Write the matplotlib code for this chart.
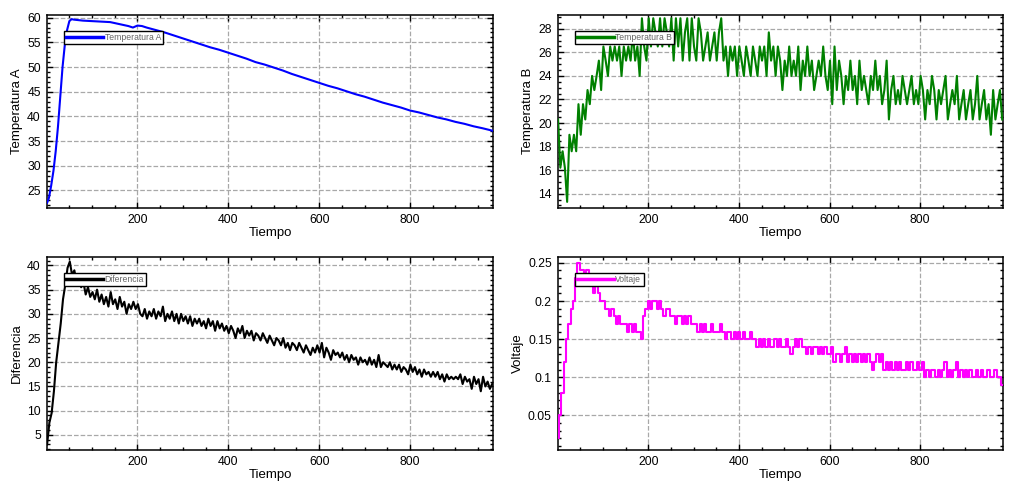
import numpy as np
import matplotlib
matplotlib.use("Agg")
import matplotlib.pyplot as plt
from matplotlib.ticker import MultipleLocator, FuncFormatter

plt.rcParams['font.family'] = ['Liberation Sans', 'DejaVu Sans']

# Temperatura A (smooth curve, read at irregular times)
tiempo_a = [1, 5, 10, 15, 20, 25, 30, 35, 40, 45, 50, 55, 60, 80, 100, 120, 140, 160, 180, 190,
            200, 210, 220, 240, 260, 280, 300, 320, 340, 360, 380, 400, 420, 440, 460, 480, 500,
            520, 540, 560, 580, 600, 620, 640, 660, 680, 700, 720, 740, 760, 780, 800, 820, 840,
            860, 880, 900, 920, 940, 960, 982]
temp_a = [22.5, 23.5, 26.0, 29.0, 33.0, 38.0, 44.0, 50.0, 54.5, 57.5, 59.3, 59.7, 59.6, 59.4, 59.3,
          59.2, 59.1, 58.7, 58.3, 58.0, 58.4, 58.3, 58.0, 57.5, 57.0, 56.4, 55.8, 55.2, 54.6, 54.0,
          53.5, 52.9, 52.3, 51.7, 51.0, 50.5, 49.9, 49.3, 48.6, 48.0, 47.4, 46.8, 46.2, 45.7, 45.1,
          44.5, 44.0, 43.4, 42.8, 42.3, 41.8, 41.2, 40.8, 40.3, 39.8, 39.4, 38.9, 38.5, 38.0, 37.6,
          37.1]

# the noisy series, read every 5 time units (t = 1, 6, 11, ... 981)
tiempo = np.arange(1, 982, 5)

temp_b = [
    20.3, 16.2, 17.6, 16.2, 13.3, 19.0, 17.6, 19.0, 17.6, 21.6,
    19.0, 21.6, 20.3, 22.8, 21.6, 24.0, 22.8, 24.0, 25.3, 22.8,
    26.5, 25.3, 24.0, 26.5, 25.3, 26.5, 25.3, 26.5, 24.0, 26.5,
    25.3, 26.5, 25.3, 27.7, 25.3, 26.5, 24.0, 28.9, 26.5, 25.3,
    28.9, 26.5, 28.9, 27.7, 26.5, 28.9, 26.5, 28.9, 27.7, 26.5,
    28.9, 25.3, 28.9, 26.5, 28.9, 25.3, 27.7, 28.9, 25.3, 28.9,
    26.5, 25.3, 28.9, 27.7, 25.3, 26.5, 27.7, 25.3, 26.5, 27.7,
    25.3, 27.7, 28.9, 25.3, 26.5, 24.0, 26.5, 25.3, 26.5, 24.0,
    26.5, 25.3, 24.0, 26.5, 25.3, 24.0, 26.5, 25.3, 24.0, 26.5,
    25.3, 26.5, 24.0, 27.7, 25.3, 26.5, 24.0, 26.5, 25.3, 22.8,
    25.3, 24.0, 26.5, 24.0, 25.3, 24.0, 26.5, 22.8, 25.3, 24.0,
    26.5, 24.0, 25.3, 22.8, 24.0, 25.3, 24.0, 26.5, 24.0, 22.8,
    25.3, 21.6, 26.5, 22.8, 25.3, 24.0, 21.6, 24.0, 22.8, 25.3,
    22.8, 24.0, 21.6, 25.3, 22.8, 24.0, 22.8, 21.6, 24.0, 22.8,
    25.3, 22.8, 24.0, 21.6, 22.8, 25.3, 20.3, 22.8, 24.0, 21.6,
    22.8, 21.6, 24.0, 22.8, 21.6, 22.8, 24.0, 21.6, 22.8, 21.6,
    24.0, 22.8, 20.3, 22.8, 21.6, 24.0, 22.8, 20.3, 22.8, 21.6,
    22.8, 24.0, 20.3, 21.6, 22.8, 21.6, 24.0, 20.3, 21.6, 22.8,
    20.3, 21.6, 22.8, 20.3, 21.6, 24.0, 20.3, 21.6, 22.8, 20.3,
    21.6, 19.0, 22.8, 20.3, 21.6, 22.8, 20.3]

diferencia = [
    3.0, 7.5, 9.5, 14.0, 20.0, 24.0, 28.0, 33.0, 36.0, 39.5,
    40.8, 38.0, 39.0, 36.5, 37.5, 35.5, 36.5, 34.0, 35.5, 33.5,
    34.5, 33.0, 35.0, 32.5, 34.0, 32.0, 33.5, 31.5, 34.5, 32.0,
    33.0, 31.0, 33.5, 31.5, 32.5, 30.0, 32.0, 31.0, 32.5, 31.0,
    32.0, 30.0, 29.5, 31.0, 29.0, 30.5, 29.5, 31.0, 29.0, 30.5,
    29.5, 31.5, 28.5, 30.0, 29.0, 30.5, 28.5, 30.0, 28.0, 30.0,
    28.5, 29.5, 28.0, 29.5, 27.5, 29.0, 28.0, 29.0, 27.5, 28.5,
    27.0, 29.0, 27.5, 28.5, 26.5, 28.5, 27.0, 28.0, 26.5, 27.5,
    26.0, 27.5, 26.5, 25.0, 27.0, 26.0, 27.5, 25.0, 26.5, 25.5,
    26.5, 24.5, 26.0, 25.5, 24.5, 26.0, 25.0, 24.0, 25.5, 24.5,
    23.5, 25.0, 24.5, 23.5, 25.0, 23.0, 24.0, 22.5, 24.0, 23.5,
    22.5, 24.0, 23.0, 22.0, 23.5, 22.5, 21.5, 23.0, 22.0, 23.5,
    22.0, 24.0, 21.0, 23.0, 22.0, 20.5, 22.5, 21.5, 22.0, 21.0,
    22.0, 20.5, 21.5, 20.0, 21.5, 20.5, 21.0, 19.5, 21.0, 20.0,
    20.5, 19.5, 21.0, 19.5, 20.5, 19.0, 21.5, 19.0, 20.0, 19.5,
    19.0, 20.0, 18.5, 19.5, 18.5, 19.5, 18.0, 19.0, 18.5, 17.5,
    19.5, 18.0, 19.0, 17.5, 18.5, 17.0, 18.5, 17.5, 18.0, 17.0,
    18.0, 17.0, 18.0, 16.5, 17.5, 16.0, 17.5, 16.5, 17.0, 16.5,
    17.0, 16.5, 17.5, 15.5, 17.0, 16.0, 16.5, 14.5, 17.0, 15.5,
    16.5, 14.0, 17.0, 15.0, 16.0, 14.5, 15.5]

voltaje = [
    0.02, 0.05, 0.08, 0.12, 0.15, 0.17, 0.19, 0.20, 0.23, 0.25,
    0.24, 0.24, 0.23, 0.24, 0.22, 0.23, 0.21, 0.22, 0.21, 0.20,
    0.20, 0.19, 0.19, 0.18, 0.19, 0.18, 0.17, 0.18, 0.17, 0.17,
    0.17, 0.16, 0.17, 0.16, 0.17, 0.16, 0.16, 0.15, 0.18, 0.19,
    0.20, 0.19, 0.20, 0.20, 0.19, 0.20, 0.19, 0.18, 0.19, 0.19,
    0.18, 0.18, 0.17, 0.18, 0.18, 0.17, 0.18, 0.17, 0.18, 0.17,
    0.17, 0.17, 0.16, 0.17, 0.16, 0.17, 0.16, 0.16, 0.17, 0.16,
    0.16, 0.16, 0.17, 0.16, 0.15, 0.16, 0.16, 0.15, 0.16, 0.15,
    0.16, 0.15, 0.16, 0.15, 0.15, 0.16, 0.15, 0.15, 0.14, 0.15,
    0.14, 0.15, 0.14, 0.15, 0.14, 0.14, 0.15, 0.14, 0.15, 0.14,
    0.14, 0.15, 0.14, 0.13, 0.14, 0.15, 0.14, 0.15, 0.14, 0.14,
    0.13, 0.14, 0.13, 0.14, 0.14, 0.13, 0.14, 0.13, 0.14, 0.13,
    0.13, 0.14, 0.12, 0.13, 0.13, 0.12, 0.13, 0.14, 0.12, 0.13,
    0.12, 0.13, 0.12, 0.13, 0.12, 0.13, 0.12, 0.13, 0.12, 0.11,
    0.12, 0.13, 0.12, 0.13, 0.11, 0.12, 0.11, 0.12, 0.11, 0.12,
    0.11, 0.12, 0.11, 0.11, 0.12, 0.11, 0.12, 0.11, 0.11, 0.12,
    0.11, 0.12, 0.10, 0.11, 0.10, 0.11, 0.11, 0.10, 0.11, 0.10,
    0.11, 0.12, 0.10, 0.11, 0.10, 0.11, 0.12, 0.10, 0.11, 0.10,
    0.11, 0.10, 0.11, 0.10, 0.10, 0.11, 0.10, 0.11, 0.10, 0.10,
    0.11, 0.10, 0.10, 0.11, 0.10, 0.10, 0.09]

fig = plt.figure(figsize=(10.24, 4.9), dpi=100)

# left, bottom, width, height in figure fraction
rects = [(0.046, 0.576, 0.4355, 0.394), (0.545, 0.576, 0.4346, 0.394),
         (0.046, 0.082, 0.4355, 0.394), (0.545, 0.082, 0.4346, 0.394)]

panels = [
    (tiempo_a, temp_a, 'blue', 'Temperatura A', (21.5, 60.6), 5, 1, None),
    (tiempo, temp_b, 'green', 'Temperatura B', (12.8, 29.2), 2, 0.5, None),
    (tiempo, diferencia, 'black', 'Diferencia', (1.9, 41.8), 5, 1, None),
    (tiempo, voltaje, 'magenta', 'Voltaje', (0.005, 0.258), 0.05, 0.01, 'steps-mid'),
]

for rect, (x, y, color, name, ylim, major, minor, ds) in zip(rects, panels):
    ax = fig.add_axes(rect)
    kw = {}
    if ds:
        kw['drawstyle'] = ds
    ax.plot(x, y, color=color, lw=1.5, label=name, zorder=3, **kw)
    ax.set_xlim(1, 983)
    ax.set_ylim(*ylim)
    ax.xaxis.set_major_locator(MultipleLocator(200))
    ax.xaxis.set_minor_locator(MultipleLocator(50))
    ax.yaxis.set_major_locator(MultipleLocator(major))
    ax.yaxis.set_minor_locator(MultipleLocator(minor))
    ax.yaxis.set_major_formatter(FuncFormatter(lambda v, p: '%g' % round(v, 4)))
    ax.tick_params(which='both', direction='in', top=True, right=True, labelsize=8.8, pad=4.5)
    ax.tick_params(which='major', length=4, width=1)
    ax.tick_params(which='minor', length=2.5, width=1)
    for s in ax.spines.values():
        s.set_linewidth(1.1)
    ax.grid(True, which='major', ls='--', color='#a8a8a8', lw=0.9)
    ax.set_axisbelow(True)
    ax.set_xlabel('Tiempo', fontsize=9.5, labelpad=1)
    ax.set_ylabel(name, fontsize=9.5, labelpad=3)
    leg = ax.legend(loc='upper left', bbox_to_anchor=(0.038, 0.918), borderaxespad=0,
                    fontsize=6.2, fancybox=False, framealpha=1, handlelength=4.3,
                    handletextpad=0.15, borderpad=0.25, labelcolor='#666666')
    leg.get_frame().set_edgecolor('black')
    leg.get_frame().set_linewidth(1)
    leg.get_lines()[0].set_linewidth(2.5)

plt.savefig('out.png', dpi=100)
